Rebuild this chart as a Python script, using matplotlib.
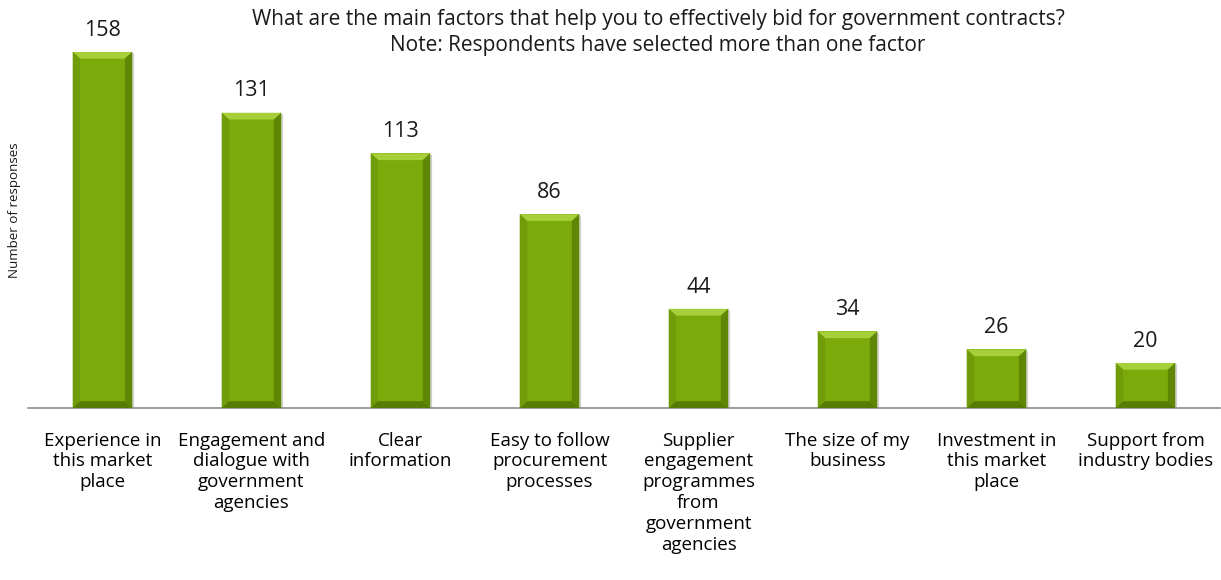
import matplotlib.pyplot as plt
from matplotlib.patches import Polygon

plt.rcParams['font.family'] = ['Open Sans', 'DejaVu Sans']

factors = [
    "Experience in\nthis market\nplace",
    "Engagement and\ndialogue with\ngovernment\nagencies",
    "Clear\ninformation",
    "Easy to follow\nprocurement\nprocesses",
    "Supplier\nengagement\nprogrammes\nfrom\ngovernment\nagencies",
    "The size of my\nbusiness",
    "Investment in\nthis market\nplace",
    "Support from\nindustry bodies",
]
responses = [158, 131, 113, 86, 44, 34, 26, 20]

fig = plt.figure(figsize=(12.21, 5.8), dpi=100)
ax = fig.add_axes([28 / 1221, 172 / 580, 1192 / 1221, 398 / 580])

x = list(range(len(responses)))
width = 0.4
ymax = 176.6
bars = ax.bar(x, responses, width=width, color="#7aab0b", edgecolor="none", zorder=2)

# bevelled look: light top, darker sides and bottom
bx = 0.05
by = 3.0
for rect in bars:
    x0 = rect.get_x()
    x1 = x0 + rect.get_width()
    h = rect.get_height()
    ax.add_patch(Polygon([(x0, h), (x1, h), (x1 - bx, h - by), (x0 + bx, h - by)],
                         closed=True, color="#a6cf3a", lw=0, zorder=3))
    ax.add_patch(Polygon([(x0, 0), (x0 + bx, by), (x0 + bx, h - by), (x0, h)],
                         closed=True, color="#6f9c08", lw=0, zorder=3))
    ax.add_patch(Polygon([(x1, 0), (x1 - bx, by), (x1 - bx, h - by), (x1, h)],
                         closed=True, color="#5f8705", lw=0, zorder=3))
    ax.add_patch(Polygon([(x0, 0), (x1, 0), (x1 - bx, by), (x0 + bx, by)],
                         closed=True, color="#577c05", lw=0, zorder=3))
    # soft shadow to the right
    ax.add_patch(Polygon([(x1, 0), (x1 + 0.012, 0), (x1 + 0.012, h - 1), (x1, h)],
                         closed=True, color="#d0d0d0", lw=0, zorder=1))
    ax.text(rect.get_x() + rect.get_width() / 2, h + 5, str(h),
            ha="center", va="bottom", fontsize=15.5, color="#1a1a1a")

ax.set_xlim(-0.5, len(responses) - 0.5)
ax.set_ylim(0, ymax)
ax.set_xticks(x)
ax.set_xticklabels(factors, fontsize=13.5, linespacing=1.2, va="top")
ax.tick_params(axis="x", length=0, pad=17)
ax.set_yticks([])
for side in ["top", "right", "left"]:
    ax.spines[side].set_visible(False)
ax.spines["bottom"].set_color("#8c8c8c")
ax.spines["bottom"].set_linewidth(1.2)

fig.text(658 / 1221, 1 - 19 / 580,
         "What are the main factors that help you to effectively bid for government contracts?",
         ha="center", va="center", fontsize=15, color="#1a1a1a")
fig.text(658 / 1221, 1 - 46 / 580,
         "Note: Respondents have selected more than one factor",
         ha="center", va="center", fontsize=15, color="#1a1a1a")
fig.text(15 / 1221, 1 - 210 / 580, "Number of responses", rotation=90,
         ha="center", va="center", fontsize=9.6, color="#1a1a1a")

fig.savefig("out.png", dpi=100)
